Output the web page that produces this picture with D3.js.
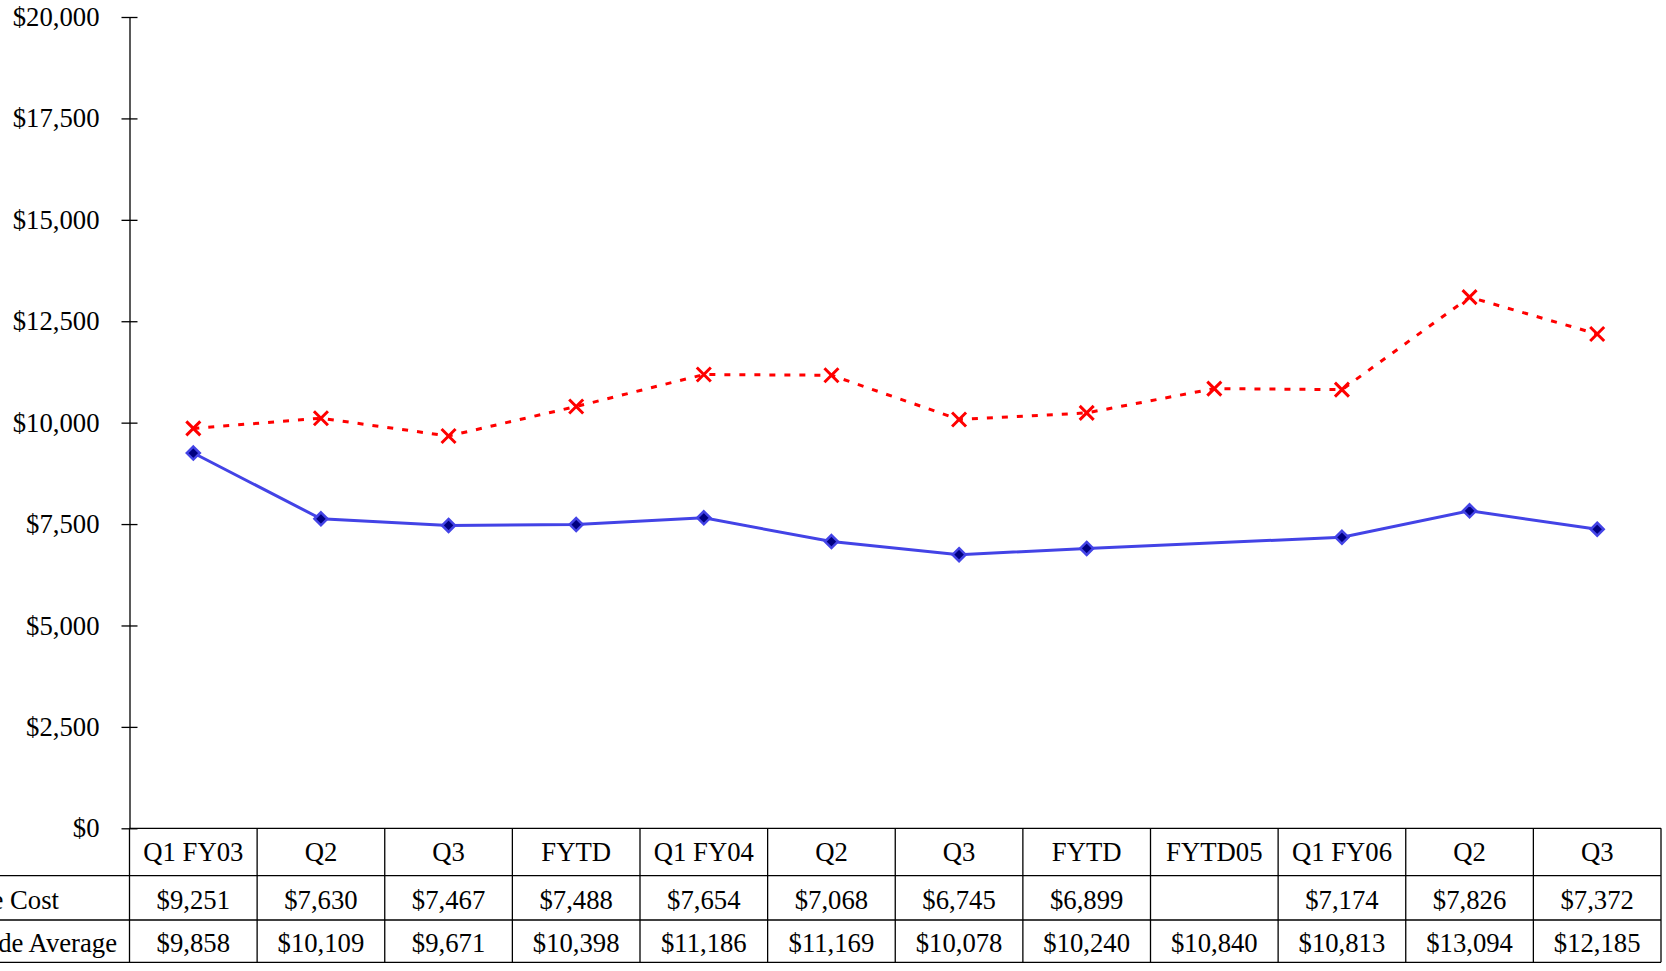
<!DOCTYPE html>
<html>
<head>
<meta charset="utf-8">
<script src="https://cdn.jsdelivr.net/npm/d3@7"></script>
<style>
    body { margin: 0; background: #fff; }
    svg text { font-family: "Liberation Serif", "Times New Roman", serif; font-size: 26.7px; fill: #000; }
</style>
</head>
<body>
<div id="chart"></div>
<script>
// categories along the bottom table
var periods = ['Q1 FY03', 'Q2', 'Q3', 'FYTD', 'Q1 FY04', 'Q2', 'Q3', 'FYTD', 'FYTD05', 'Q1 FY06', 'Q2', 'Q3'];
// series values (null = no value for that period)
var averageCost = [9251, 7630, 7467, 7488, 7654, 7068, 6745, 6899, null, 7174, 7826, 7372];
var statewideAverage = [9858, 10109, 9671, 10398, 11186, 11169, 10078, 10240, 10840, 10813, 13094, 12185];
var seriesNames = ['Average Cost', 'Statewide Average'];
var yTicks = [0, 2500, 5000, 7500, 10000, 12500, 15000, 17500, 20000];

function main(domSelector) {
    var width = 1666;
    var height = 971;
    var margin = {top: 17, left: 129.5, right: 5};
    var plotBottom = 828.3;
    var rowLines = [875.7, 920, 962.3];

    var svg = d3.select(domSelector).append('svg')
        .attr('width', width)
        .attr('height', height);

    var xScale = d3.scaleBand().domain(d3.range(periods.length))
        .range([margin.left, width - margin.right]);
    var yScale = d3.scaleLinear().domain([0, 20000]).range([plotBottom, margin.top]);

    // y axis with ticks crossing the line
    var yAxis = svg.append('g')
        .attr('transform', 'translate(' + margin.left + ',0)')
        .call(d3.axisLeft(yScale)
            .tickValues(yTicks)
            .tickSizeInner(8)
            .tickSizeOuter(0)
            .tickPadding(22)
            .tickFormat(function (d) { return '$' + d3.format(',')(d); }));
    yAxis.select('.domain').attr('stroke', '#000').attr('stroke-width', 1.3);
    yAxis.selectAll('.tick line').attr('x2', -8).attr('x1', 8).attr('stroke', '#000').attr('stroke-width', 1.3);
    yAxis.selectAll('.tick text')
        .attr('font-family', null).attr('font-size', null)
        .style('font-size', '26.7px');
    yAxis.attr('font-family', null).attr('font-size', null);

    // data table
    var table = svg.append('g').attr('class', 'data-table');
    var tableLeft = margin.left;
    var tableRight = width - margin.right;
    table.append('line')
        .attr('x1', tableLeft).attr('x2', tableRight)
        .attr('y1', plotBottom).attr('y2', plotBottom);
    rowLines.forEach(function (y) {
        table.append('line')
            .attr('x1', 0).attr('x2', tableRight)
            .attr('y1', y).attr('y2', y);
    });
    d3.range(periods.length + 1).forEach(function (i) {
        var x = i < periods.length ? xScale(i) : tableRight;
        table.append('line')
            .attr('x1', x).attr('x2', x)
            .attr('y1', plotBottom).attr('y2', rowLines[2]);
    });
    table.selectAll('line').attr('stroke', '#000').attr('stroke-width', 1.3);

    var textRows = [
        {y: 861, values: periods.map(function (p) { return p; })},
        {y: 909, values: averageCost.map(function (v) { return v === null ? '' : '$' + d3.format(',')(v); })},
        {y: 951.5, values: statewideAverage.map(function (v) { return '$' + d3.format(',')(v); })}
    ];
    textRows.forEach(function (row) {
        table.selectAll(null)
            .data(row.values)
            .enter()
            .append('text')
            .attr('x', function (d, i) { return xScale(i) + xScale.bandwidth() / 2; })
            .attr('y', row.y)
            .attr('text-anchor', 'middle')
            .text(function (d) { return d; });
    });
    table.append('text').attr('x', 59).attr('y', 909).attr('text-anchor', 'end').text(seriesNames[0]);
    table.append('text').attr('x', 117).attr('y', 951.5).attr('text-anchor', 'end').text(seriesNames[1]);

    var cx = function (d, i) { return xScale(i) + xScale.bandwidth() / 2; };

    // statewide average: red dashed line with x markers
    var redLine = d3.line()
        .x(function (d) { return d.x; })
        .y(function (d) { return yScale(d.v); });
    var redPts = statewideAverage.map(function (v, i) { return {x: cx(v, i), v: v}; });
    svg.append('path')
        .datum(redPts)
        .attr('d', redLine)
        .attr('fill', 'none')
        .attr('stroke', '#ff0000')
        .attr('stroke-width', 3)
        .attr('stroke-dasharray', '6,9');
    svg.selectAll('path.cross')
        .data(redPts)
        .enter()
        .append('path')
        .attr('class', 'cross')
        .attr('transform', function (d) { return 'translate(' + d.x + ',' + yScale(d.v) + ')'; })
        .attr('d', 'M-7,-7L7,7M-7,7L7,-7')
        .attr('stroke', '#ff0000')
        .attr('stroke-width', 3);

    // average cost: blue solid line with diamonds, skipping missing values
    var bluePts = averageCost.map(function (v, i) { return {x: cx(v, i), v: v}; })
        .filter(function (d) { return d.v !== null; });
    svg.append('path')
        .datum(bluePts)
        .attr('d', redLine)
        .attr('fill', 'none')
        .attr('stroke', '#4343e6')
        .attr('stroke-width', 3);
    svg.selectAll('path.diamond')
        .data(bluePts)
        .enter()
        .append('path')
        .attr('class', 'diamond')
        .attr('transform', function (d) { return 'translate(' + d.x + ',' + yScale(d.v) + ')'; })
        .attr('d', 'M0,-6.5L6.5,0L0,6.5L-6.5,0Z')
        .attr('fill', '#000080')
        .attr('stroke', '#4343e6')
        .attr('stroke-width', 2.5);
}

main('#chart');
</script>
</body>
</html>
